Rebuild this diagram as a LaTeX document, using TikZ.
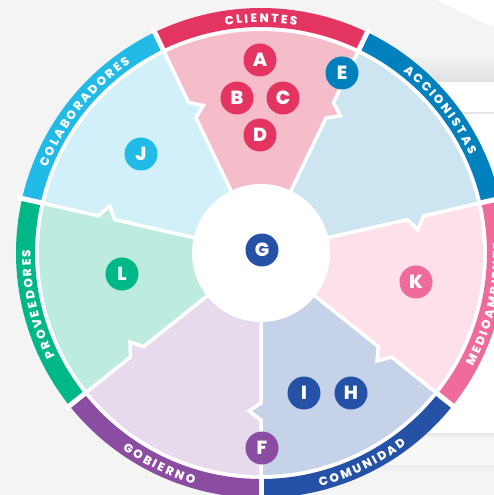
\documentclass[tikz,border=0pt]{standalone}
\usepackage{fontspec}
\setmainfont{Poppins}[BoldFont={* ExtraBold}]
\usetikzlibrary{calc,decorations.text}

\definecolor{bgGray}{HTML}{F4F4F4}
\definecolor{cliRing}{HTML}{E43562}
\definecolor{cliFill}{HTML}{F5BCCA}
\definecolor{accRing}{HTML}{0081BD}
\definecolor{accFill}{HTML}{CCE5F1}
\definecolor{medRing}{HTML}{EF6B9C}
\definecolor{medFill}{HTML}{FDE0EA}
\definecolor{comRing}{HTML}{2551A6}
\definecolor{comFill}{HTML}{C5D2E8}
\definecolor{gobRing}{HTML}{8A4DA1}
\definecolor{gobFill}{HTML}{E7DAEC}
\definecolor{proRing}{HTML}{00B887}
\definecolor{proFill}{HTML}{BDEBDF}
\definecolor{colRing}{HTML}{22BBE8}
\definecolor{colFill}{HTML}{D2F0F9}

\newcommand{\ringfont}{\fontsize{12}{12}\selectfont\bfseries}

\begin{document}
\begin{tikzpicture}[
x=1pt,y=1pt,
badge/.style={circle,minimum size=33pt,inner sep=0pt,text=white,font=\fontsize{19}{19}\selectfont\bfseries},
divider/.style={white,line width=3.5pt,line join=miter},
ringtext/.style={decorate,decoration={text along path,text align=center,text color=white,text={|\ringfont|#1}}},
]

\useasboundingbox (-261,-242) rectangle (233,253);
\clip (-261,-242) rectangle (233,253);
\fill[bgGray] (-261,-242) rectangle (233,253);

% sheets of paper behind the wheel
\shade[top color=bgGray,bottom color=black!12] (100,200) rectangle (233,171);
\fill[white] (176,253) .. controls (199,241) and (219,231) .. (233,227) -- (233,253) -- cycle;
\fill[white] (100,171) rectangle (233,-180);
\draw[black!10,line width=1.2pt] (100,140) -- (233,140);
\shade[top color=black!10,bottom color=white] (100,-180) rectangle (233,-188);
\fill[white!97!black] (100,-188) rectangle (233,-212);
\shade[top color=black!8,bottom color=bgGray] (100,-212) rectangle (233,-218);

\fill[white] (0,0) circle (226);

% sectors and outer ring
\foreach \a/\fillc/\ringc in {64.29/cliFill/cliRing,12.86/accFill/accRing,-38.57/medFill/medRing,-90/comFill/comRing,-141.43/gobFill/gobRing,-192.86/proFill/proRing,-244.29/colFill/colRing}
{
\fill[\fillc] (0,0) -- (\a:222) arc[start angle=\a,end angle=\a+51.43,radius=222] -- cycle;
\fill[\ringc] (\a:226) arc[start angle=\a,end angle=\a+51.43,radius=226] -- (\a+51.43:245) arc[start angle=\a+51.43,end angle=\a,radius=245] -- cycle;
}

% notches
\foreach \a/\fillc in {64.29/cliFill,12.86/accFill,-38.57/medFill,-90/comFill,-141.43/gobFill,-192.86/proFill,-244.29/colFill}
{
\fill[\fillc] (\a:150) -- ($(\a:158)+(\a-90:12)$) -- (\a:167) -- cycle;
\draw[divider] (\a:60) -- (\a:150) -- ($(\a:158)+(\a-90:12)$) -- (\a:167) -- (\a:224);
\draw[white,line width=5pt] (\a:223) -- (\a:250);
}

\fill[white] (0,0) circle (69);

% ring labels
\path[ringtext={C L I E N T E S}] (130:230.5) arc[start angle=130,end angle=50,radius=230.5];
\path[ringtext={A C C I O N I S T A S}] (78.6:230.5) arc[start angle=78.6,end angle=-1.4,radius=230.5];
\path[ringtext={C O L A B O R A D O R E S}] (181.4:230.5) arc[start angle=181.4,end angle=101.4,radius=230.5];
\path[ringtext={P R O V E E D O R E S}] (232.9:230.5) arc[start angle=232.9,end angle=152.9,radius=230.5];
\path[ringtext={G O B I E R N O}] (-155.7:240.5) arc[start angle=-155.7,end angle=-75.7,radius=240.5];
\path[ringtext={C O M U N I D A D}] (-104.3:240.5) arc[start angle=-104.3,end angle=-24.3,radius=240.5];
\path[ringtext={M E D I O A M B I E N T E}] (-52.9:240.5) arc[start angle=-52.9,end angle=27.1,radius=240.5];

% badges
\node[badge,fill=cliRing] (nA) at (-1,193) {A};
\node[badge,fill=cliRing] (nB) at (-24,155) {B};
\node[badge,fill=cliRing] (nC) at (22,155) {C};
\node[badge,fill=cliRing] (nD) at (-1,118) {D};
\node[badge,fill=accRing] (nE) at (81,180) {E};
\node[badge,fill=colRing] (nJ) at (-120,99) {J};
\node[badge,fill=comRing] (nG) at (1,3) {G};
\node[badge,fill=proRing] (nL) at (-139,-21) {L};
\node[badge,fill=medRing] (nK) at (155,-29) {K};
\node[badge,fill=comRing] (nI) at (43,-140) {I};
\node[badge,fill=comRing] (nH) at (90,-140) {H};
\node[badge,fill=gobRing] (nF) at (1,-195) {F};

\end{tikzpicture}
\end{document}
